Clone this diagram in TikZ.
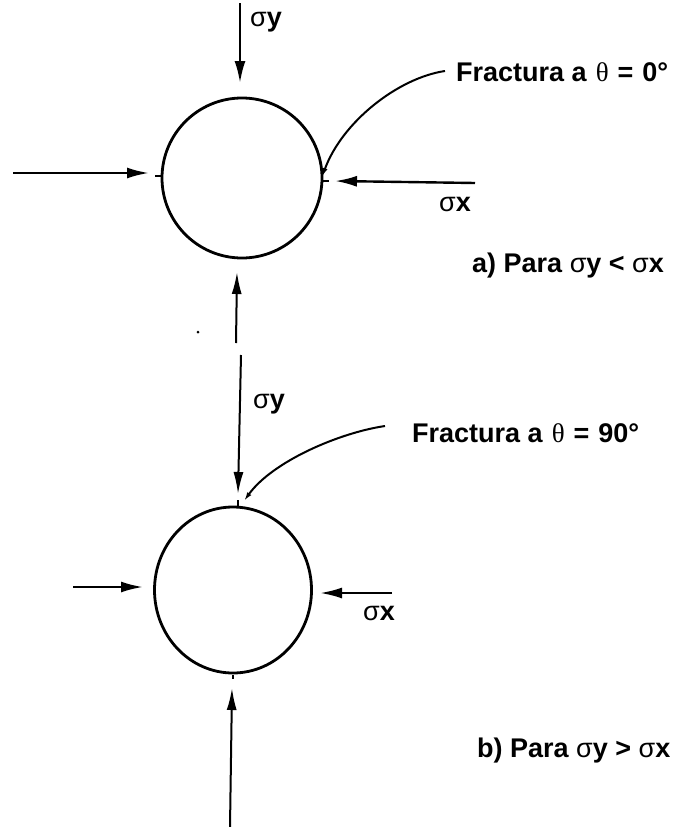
\documentclass[tikz,border=0pt]{standalone}
\usepackage{fontspec}
\setmainfont{Liberation Sans}
\newfontfamily\grkfont{Liberation Serif}
\usetikzlibrary{arrows.meta,shapes.geometric}
\newcommand\sgm{{\mdseries σ}}
\newcommand\tht{{\grkfont\mdseries θ}}
\begin{document}
\begin{tikzpicture}[x=1pt,y=-1pt,
  force/.style={line width=2.4pt,-{Latex[length=22pt,width=11pt]}},
  thinforce/.style={line width=2pt,-{Latex[length=22pt,width=10pt]}},
  frac/.style={line width=2pt,-{Latex[length=9pt,width=5pt]}},
  lbl/.style={font=\fontsize{27}{30}\selectfont\bfseries, inner sep=0pt, anchor=west},
  body/.style={draw, line width=2.8pt, inner sep=0pt},
  tickmark/.style={line width=2pt}]
\useasboundingbox (0,0) rectangle (696,827);
\fill[white] (0,0) rectangle (696,827);

% ---------- a) ----------
\node[body, circle, minimum size=160pt] (ca) at (242,178) {};
\coordinate (ta1) at (240,3);   \coordinate (ta2) at (240,83);
\coordinate (la1) at (13,173);  \coordinate (la2) at (149,173);
\coordinate (ra1) at (475,183); \coordinate (ra2) at (335,181);
\coordinate (ba1) at (236,343); \coordinate (ba2) at (237,272);
\draw[force] (ta1) -- (ta2);
\draw[force] (la1) -- (la2);
\draw[force] (ra1) -- (ra2);
\draw[thinforce] (ba1) -- (ba2);
\node[lbl] (sya) at (250,22) {\sgm y};
\node[lbl, anchor=center] (sxa) at (455,204) {\sgm x};
\node[lbl] (fa) at (456,72) {Fractura a\hspace{9pt}\tht\hspace{9pt}=\hspace{9pt}0°};
\coordinate (fa0) at (445,71);
\coordinate (fa1) at (322,177);
\draw[frac] (fa0) .. controls (398,78) and (342,122) .. (fa1);
\draw[tickmark] (155,176) -- (162,176);
\draw[tickmark] (322,181) -- (329,181);
\node[lbl] (capa) at (472,266) {a) Para \sgm y < \sgm x};

\fill (198,332) circle (1.5pt);

% ---------- b) ----------
\node[body, ellipse, minimum width=157pt, minimum height=166pt] (cb) at (233,590) {};
\coordinate (tb1) at (241,355); \coordinate (tb2) at (238,494);
\coordinate (lb1) at (73,587);  \coordinate (lb2) at (143,587);
\coordinate (rb1) at (392,593); \coordinate (rb2) at (320,593);
\coordinate (bb1) at (230,827); \coordinate (bb2) at (232,688);
\draw[thinforce] (tb1) -- (tb2);
\draw[force] (lb1) -- (lb2);
\draw[force] (rb1) -- (rb2);
\draw[thinforce] (bb1) -- (bb2);
\node[lbl] (syb) at (253,404) {\sgm y};
\node[lbl, anchor=center] (sxb) at (379,613) {\sgm x};
\node[lbl] (fb) at (412,433) {Fractura a\hspace{9pt}\tht\hspace{9pt}=\hspace{9pt}90°};
\coordinate (fb0) at (385,426);
\coordinate (fb1) at (244,501);
\draw[frac] (fb0) .. controls (338,433) and (272,462) .. (fb1);
\draw[tickmark] (238,500) -- (238,506);
\draw[tickmark] (233,675) -- (233,679);
\node[lbl] (capb) at (477,751) {b) Para \sgm y > \sgm x};
\end{tikzpicture}
\end{document}
